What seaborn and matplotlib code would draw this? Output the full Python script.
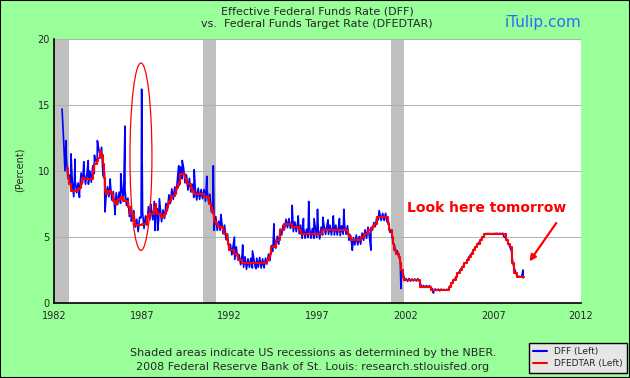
import pandas as pd
import seaborn as sns
import matplotlib
matplotlib.use('Agg')
import matplotlib.pyplot as plt
from matplotlib.patches import Ellipse, Rectangle
from matplotlib.lines import Line2D

# Effective fed funds rate (DFF), one reading per month from June 1982
# (alternating high / low readings of the daily band)
dff_start = 1982 + 5 / 12
dff_values = [
    14.7, 12.5, 10.0, 10.9, 9.4, 9.7, 8.7,                                  # 1982 (Jun-Dec)
    9.15, 8.05, 9.25, 8.35, 9.1, 8.5, 9.85, 9.1, 9.9, 9.0, 9.8, 9.0,        # 1983
    10.0, 9.15, 10.4, 9.8, 10.8, 10.6, 11.7, 11.2, 11.8, 9.6, 9.9, 7.95,    # 1984
    8.8, 8.05, 9.05, 7.8, 8.45, 7.1, 8.35, 7.45, 8.4, 7.55, 8.5, 7.8,       # 1985
    8.6, 7.4, 7.95, 6.55, 7.3, 6.45, 7.0, 5.75, 6.35, 5.4, 6.5, 6.45,       # 1986
    6.9, 5.65, 6.6, 5.9, 7.3, 6.3, 7.05, 6.3, 7.7, 6.85, 7.15, 6.3,         # 1987
    7.3, 6.15, 7.05, 6.4, 7.55, 7.05, 8.2, 7.55, 8.65, 7.85, 8.8, 8.3,      # 1988
    9.6, 8.9, 10.3, 9.4, 10.25, 9.1, 9.7, 8.55, 9.45, 8.4, 9.0, 8.0,        # 1989
    8.7, 7.8, 8.7, 7.85, 8.6, 7.9, 8.6, 7.7, 8.65, 7.7, 8.25, 6.9,          # 1990
    7.35, 5.8, 6.55, 5.5, 6.2, 5.5, 6.25, 5.25, 5.9, 4.8, 5.25, 4.0,        # 1991
    4.45, 3.65, 4.4, 3.3, 4.25, 3.35, 3.65, 2.9, 3.6, 2.7, 3.5, 2.55,       # 1992
    3.35, 2.7, 3.4, 2.65, 3.35, 2.7, 3.4, 2.7, 3.45, 2.65, 3.35, 2.65,      # 1993
    3.4, 2.95, 3.7, 3.2, 4.35, 3.9, 4.6, 4.15, 5.05, 4.45, 5.6, 5.15,       # 1994
    5.9, 5.6, 6.35, 5.7, 6.4, 5.65, 6.2, 5.4, 6.15, 5.4, 6.15, 5.25,        # 1995
    5.9, 4.9, 5.7, 4.9, 5.6, 4.95, 5.75, 4.9, 5.65, 4.9, 5.7, 4.95,         # 1996
    5.6, 4.85, 5.75, 5.15, 5.85, 5.2, 5.9, 5.2, 5.9, 5.15, 5.9, 5.15,       # 1997
    5.9, 5.15, 5.85, 5.1, 5.85, 5.2, 5.9, 5.2, 5.85, 4.75, 5.15, 4.35,      # 1998
    4.95, 4.4, 5.15, 4.4, 5.05, 4.45, 5.3, 4.75, 5.55, 4.9, 5.75, 5.0,      # 1999
    5.7, 5.5, 6.1, 5.8, 6.5, 6.3, 6.8, 6.25, 6.8, 6.25, 6.8, 6.15,          # 2000
    6.15, 5.35, 5.5, 4.6, 4.4, 3.8, 3.95, 3.5, 3.25, 2.35, 2.25, 1.7,       # 2001
    1.85, 1.65, 1.85, 1.65, 1.82, 1.68, 1.82, 1.66, 1.84, 1.66, 1.4, 1.18,  # 2002
    1.32, 1.18, 1.32, 1.18, 1.31, 1.16, 1.07, 0.96, 1.06, 0.95, 1.05, 0.92, # 2003
    1.05, 0.97, 1.03, 0.98, 1.03, 1.0, 1.28, 1.42, 1.64, 1.75, 1.95, 2.18,  # 2004
    2.3, 2.5, 2.65, 2.78, 3.02, 3.04, 3.28, 3.49, 3.64, 3.77, 4.02, 4.16,   # 2005
    4.3, 4.49, 4.6, 4.79, 4.95, 4.99, 5.25, 5.24, 5.27, 5.24, 5.26, 5.23,   # 2006
    5.27, 5.25, 5.28, 5.24, 5.27, 5.24, 5.28, 5.0, 4.95, 4.77, 4.5, 4.24,   # 2007
    3.94, 2.98, 2.61, 2.28, 1.98, 2.02, 2.0, 2.0, 1.9,                      # 2008 (Jan-Sep)
]

# single-day spikes in DFF
spike_dates = [1982.68, 1982.97, 1983.2, 1983.45, 1983.7, 1983.95, 1984.3, 1984.47,
               1984.9, 1985.2, 1985.47, 1985.8, 1986.04, 1986.4, 1986.99, 1987.5,
               1987.75, 1987.9, 1988.0, 1989.1, 1989.3, 1989.98, 1990.7, 1991.07,
               1991.12, 1991.5, 1992.27, 1992.74, 1993.3, 1993.5, 1994.52, 1995.56,
               1995.9, 1996.2, 1996.5, 1996.8, 1997.0, 1997.3, 1997.6, 1997.9,
               1998.25, 1998.5, 1998.98, 2000.04, 2000.51, 2001.75, 2003.6, 2008.7]
spike_values = [12.3, 11.3, 10.9, 8.0, 10.7, 10.8, 11.2, 12.3,
                6.9, 9.4, 6.7, 9.8, 13.4, 6.2, 16.2, 7.5,
                5.5, 5.5, 7.9, 10.4, 10.8, 10.1, 9.6, 10.4,
                5.5, 6.7, 5.0, 4.4, 3.95, 2.6, 6.0, 7.4,
                6.6, 6.4, 7.7, 6.4, 7.1, 6.5, 6.3, 6.6,
                6.4, 7.1, 4.0, 4.0, 7.0, 1.1, 0.75, 2.5]

# Fed funds target rate (DFEDTAR), change dates and new level
target_dates = [1982.74, 1982.78, 1982.80, 1982.88, 1982.96, 1983.37, 1983.45, 1983.55,
                1983.62, 1983.72, 1984.21, 1984.3, 1984.45, 1984.5, 1984.6, 1984.7,
                1984.77, 1984.8, 1984.82, 1984.87, 1984.9, 1984.93, 1984.96, 1985.1,
                1985.25, 1985.37, 1985.47, 1985.6, 1985.65, 1985.8, 1985.95, 1986.2,
                1986.3, 1986.33, 1986.53, 1986.58, 1986.62, 1987.0, 1987.3, 1987.35,
                1987.7, 1987.8, 1987.82, 1987.87, 1988.1, 1988.25, 1988.35, 1988.45,
                1988.5, 1988.55, 1988.65, 1988.88, 1988.95, 1989.08, 1989.15, 1989.45,
                1989.5, 1989.58, 1989.82, 1989.88, 1989.97, 1990.55, 1990.8, 1990.85,
                1990.95, 1991.0, 1991.05, 1991.1, 1991.2, 1991.35, 1991.6, 1991.7,
                1991.85, 1991.92, 1991.97, 1992.27, 1992.5, 1992.7, 1994.1, 1994.22,
                1994.3, 1994.38, 1994.62, 1994.88, 1995.08, 1995.52, 1995.97, 1996.08,
                1997.23, 1998.75, 1998.8, 1998.88, 1999.5, 1999.65, 1999.88, 2000.1,
                2000.22, 2000.38, 2001.01, 2001.08, 2001.22, 2001.3, 2001.38, 2001.49,
                2001.64, 2001.71, 2001.76, 2001.85, 2001.95, 2002.85, 2003.48, 2004.5,
                2004.61, 2004.72, 2004.86, 2004.96, 2005.09, 2005.22, 2005.34, 2005.5,
                2005.61, 2005.72, 2005.84, 2005.96, 2006.08, 2006.24, 2006.36, 2006.5,
                2007.71, 2007.83, 2007.95, 2008.06, 2008.08, 2008.21, 2008.33, 2008.75]
target_values = [10.25, 10.0, 9.5, 9.0, 8.5, 8.625, 8.75, 9.0,
                 9.5, 9.375, 10.0, 10.5, 10.75, 11.0, 11.5, 11.25,
                 11.0, 10.5, 10.0, 9.5, 9.0, 8.5, 8.25, 8.5,
                 8.25, 7.75, 7.5, 7.75, 7.875, 8.0, 7.75, 7.25,
                 7.0, 6.75, 6.5, 6.25, 5.875, 6.0, 6.5, 6.75,
                 7.25, 7.5, 7.0, 6.75, 6.5, 6.75, 7.0, 7.25,
                 7.5, 7.75, 8.125, 8.25, 8.75, 9.0, 9.75, 9.5,
                 9.25, 9.0, 8.75, 8.5, 8.25, 8.0, 7.75, 7.5,
                 7.25, 7.0, 6.75, 6.25, 6.0, 5.75, 5.5, 5.25,
                 4.75, 4.5, 4.0, 3.75, 3.25, 3.0, 3.25, 3.5,
                 3.75, 4.25, 4.75, 5.5, 6.0, 5.75, 5.5, 5.25,
                 5.5, 5.25, 5.0, 4.75, 5.0, 5.25, 5.5, 5.75,
                 6.0, 6.5, 6.0, 5.5, 5.0, 4.5, 4.0, 3.75,
                 3.5, 3.0, 2.5, 2.0, 1.75, 1.25, 1.0, 1.25,
                 1.5, 1.75, 2.0, 2.25, 2.5, 2.75, 3.0, 3.25,
                 3.5, 3.75, 4.0, 4.25, 4.5, 4.75, 5.0, 5.25,
                 4.75, 4.5, 4.25, 3.5, 3.0, 2.25, 2.0, 2.0]

# NBER recessions
recession_starts = [1981.5, 1990.5, 2001.2]
recession_ends = [1982.86, 1991.22, 2001.9]

x_ticks = [1982, 1987, 1992, 1997, 2002, 2007, 2012]
y_ticks = [0, 5, 10, 15, 20]

monthly = pd.DataFrame({'year': [dff_start + (i + 0.5) / 12 for i in range(len(dff_values))],
                        'rate': dff_values})
spikes = pd.DataFrame({'year': spike_dates, 'rate': spike_values})
dff = pd.concat([monthly, spikes]).sort_values('year').reset_index(drop=True)
target = pd.DataFrame({'year': target_dates, 'rate': target_values})

sns.set_style('white')
plt.rcParams['font.family'] = ['DejaVu Sans']

green = '#99ff99'
fig = plt.figure(figsize=(6.3, 3.78), dpi=100, facecolor=green)
ax = fig.add_axes([54 / 630, 1 - 303 / 378, 527 / 630, 264 / 378])
ax.set_facecolor('white')

for s, e in zip(recession_starts, recession_ends):
    ax.axvspan(s, e, color='#c0c0c0', lw=0, zorder=1)

for y in y_ticks[1:]:
    ax.axhline(y, color='#b0b0b0', lw=0.7, zorder=2)

sns.lineplot(data=dff, x='year', y='rate', color='#0000ff', lw=1.2,
             estimator=None, sort=False, ax=ax, zorder=3)
sns.lineplot(data=target, x='year', y='rate', color='#ff0000', lw=1.5,
             estimator=None, sort=False, drawstyle='steps-post', ax=ax, zorder=4)

ax.add_patch(Ellipse((1986.95, 11.08), width=1.25, height=14.2, fill=False,
                     edgecolor='#ff0000', lw=0.9, zorder=5))

ax.text(2002.09, 7.22, 'Look here tomorrow', color='#ff0000', fontsize=10,
        fontweight='bold', ha='left', va='center', zorder=6)
ax.annotate('', xy=(2008.98, 2.98), xytext=(2010.68, 6.23),
            arrowprops=dict(arrowstyle='-|>', color='#ff0000', lw=1.6,
                            mutation_scale=9), zorder=6)

ax.set_xlim(1982, 2012)
ax.set_ylim(0, 20)
ax.set_xticks(x_ticks)
ax.set_yticks(y_ticks)
ax.tick_params(axis='both', direction='in', length=4, width=1, color='black',
               labelsize=7, pad=3)
ax.tick_params(axis='x', pad=6)
ax.set_xlabel('')
ax.set_ylabel('')
for side in ['top', 'right']:
    ax.spines[side].set_visible(False)
for side in ['left', 'bottom']:
    ax.spines[side].set_color('black')
    ax.spines[side].set_linewidth(1.2)

fig.text(20 / 630, 1 - 170 / 378, '(Percent)', rotation=90, fontsize=7,
         ha='center', va='center')
fig.text(317 / 630, 1 - 11 / 378, 'Effective Federal Funds Rate (DFF)',
         fontsize=8, ha='center', va='center')
fig.text(317 / 630, 1 - 24 / 378, 'vs.  Federal Funds Target Rate (DFEDTAR)',
         fontsize=8, ha='center', va='center')
fig.text(543 / 630, 1 - 23 / 378, 'iTulip.com', color='#3366ff', fontsize=11,
         ha='center', va='center')
fig.text(313 / 630, 1 - 353 / 378,
         'Shaded areas indicate US recessions as determined by the NBER.',
         fontsize=8, ha='center', va='center')
fig.text(313 / 630, 1 - 367 / 378,
         '2008 Federal Reserve Bank of St. Louis: research.stlouisfed.org',
         fontsize=8, ha='center', va='center')

handles = [Line2D([], [], color='#0000ff', lw=1.5), Line2D([], [], color='#ff0000', lw=1.5)]
leg = fig.legend(handles, ['DFF (Left)', 'DFEDTAR (Left)'], loc='lower right',
                 bbox_to_anchor=(627 / 630, 5 / 378), fontsize=6.5, frameon=True,
                 fancybox=False, facecolor='#e6e6e6', edgecolor='black',
                 handlelength=1.5, borderpad=0.5, labelspacing=0.35, framealpha=1,
                 borderaxespad=0)
leg.get_frame().set_linewidth(1)

fig.patches.append(Rectangle((0, 0), 1, 1, transform=fig.transFigure, fill=False,
                             edgecolor='black', lw=1.5))

fig.savefig('out.png', dpi=100, facecolor=green)
